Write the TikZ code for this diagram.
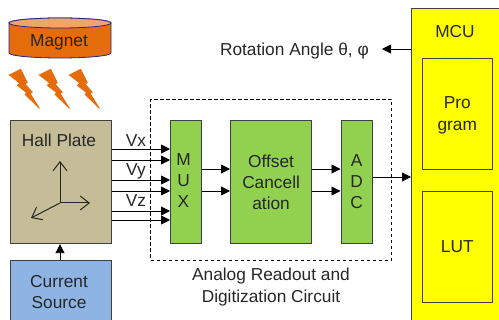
\documentclass[tikz,border=0pt]{standalone}
\usepackage{fontspec}
\setmainfont{Liberation Sans}
\usetikzlibrary{arrows.meta}
\definecolor{gbox}{HTML}{92D050}
\definecolor{tan1}{HTML}{C4BD97}
\definecolor{blue1}{HTML}{8EB4E3}
\definecolor{org}{HTML}{E46C0A}
\definecolor{orgl}{HTML}{F0A468}
\definecolor{edge}{HTML}{404040}
\definecolor{yel}{HTML}{FFFF00}
\tikzset{
  x=1pt,y=-1pt,
  box/.style={draw=edge,line width=1.2pt,inner sep=0pt,align=center,font=\fontsize{17.3}{21}\selectfont,text=black!85},
  lab/.style={inner sep=0pt,align=center,font=\fontsize{17.3}{21}\selectfont,text=black!85},
  conn/.style={draw=black,line width=.9pt,-{Triangle[length=9pt,width=9pt]}},
  axis/.style={draw=black!85,line width=1pt,-{Straight Barb[length=9pt,width=14pt]}},
  bolt/.style={fill=org,draw=org,line width=.8pt,line join=round},
}
\begin{document}
\begin{tikzpicture}
\useasboundingbox (0,0) rectangle (499,320);
% Magnet
\path[fill=org,draw=edge!60!blue,line width=.8pt] (9,23) -- (9,53) arc[x radius=51,y radius=-5,start angle=180,end angle=360] -- (111,23) arc[x radius=51,y radius=-5,start angle=0,end angle=180] -- cycle;
\path[fill=orgl,draw=edge!60!blue,line width=.8pt] (60,23) ellipse[x radius=51,y radius=5];
\node[lab] (magnet) at (59,42.5) {Magnet};
% bolts
\foreach \d in {0,30,60}{
\path[bolt,xshift=\d pt] (9.3,75) -- (20.7,69.3) -- (27.3,82.7) -- (25,84) -- (32.3,92.3) -- (30,93.3) -- (39.3,108.3) -- (25,94.3) -- (26.7,92.7) -- (17.3,85.3) -- (20,83.3) -- cycle;
}
% boxes
\node[box,fill=tan1,minimum width=101pt,minimum height=123pt,anchor=north west] (hall) at (9.5,120) {};
\node[lab] (halllabel) at (59,140) {Hall Plate};
\node[box,fill=blue1,anchor=north west,minimum width=101pt,minimum height=70pt] (current) at (9.5,260) {};
\node[lab] (currentlabel) at (59,292) {Current\\Source};
\node[box,fill=gbox,anchor=north west,minimum width=31pt,minimum height=123pt] (mux) at (170,120) {};
\node[lab] (muxlabel) at (183.5,181) {M\\U\\X};
\node[box,fill=gbox,anchor=north west,minimum width=81pt,minimum height=123pt] (offset) at (230,120) {Offset\\Cancell\\ation};
\node[box,fill=gbox,anchor=north west,minimum width=31pt,minimum height=123pt] (adc) at (340.5,120) {A\\D\\C};
\node[box,fill=yel,anchor=north west,minimum width=100pt,minimum height=330pt] (mcu) at (411,8) {};
\node[lab] (mculabel) at (455,32) {MCU};
\node[box,fill=yel,anchor=north west,minimum width=70pt,minimum height=111pt] (prog) at (421.7,58) {};
\node[lab] (proglabel) at (prog.center) [yshift=-1.5pt] {Pro\\[1pt]gram};
\node[box,fill=yel,anchor=north west,minimum width=70pt,minimum height=111pt] (lut) at (421.7,190.7) {LUT};
% dashed
\node[draw=black,dash pattern=on 3.5pt off 2.5pt,line width=1pt,anchor=north west,minimum width=241pt,minimum height=161pt,inner sep=0pt] (analog) at (150,99) {};
\node[lab] (analoglabel) at (271,287.5) {Analog Readout and\\[1pt]Digitization Circuit};
% arrows
\foreach \y in {149,160,180,191,211,220}{
  \coordinate (s) at (hall.east |- 0,\y);
  \coordinate (t) at (mux.west |- 0,\y);
  \draw[conn] (s) -- (t);
}
\foreach \y in {169,191}{
  \coordinate (s) at (mux.east |- 0,\y);
  \coordinate (t) at (offset.west |- 0,\y);
  \draw[conn] (s) -- (t);
  \coordinate (s) at (offset.east |- 0,\y);
  \coordinate (t) at (adc.west |- 0,\y);
  \draw[conn] (s) -- (t);
}
\coordinate (as) at (adc.east |- 0,177);
\coordinate (at) at (mcu.west |- 0,177);
\draw[conn] (as) -- (at);
\coordinate (rs) at (mcu.west |- 0,49);
\coordinate (rt) at (382,49);
\draw[conn] (rs) -- (rt);
\node[lab,anchor=east] (rot) at (369,51) {Rotation Angle θ, φ};
\draw[conn] (current.north -| 60,0) -- (hall.south -| 60,0);
\node[lab] (vx) at (136,141) {Vx};
\node[lab] (vy) at (136,171) {Vy};
\node[lab] (vz) at (136,201) {Vz};
% axes
\coordinate (o) at (60,203);
\coordinate (ax) at (90,203);
\coordinate (ay) at (60,161);
\coordinate (az) at (31,218);
\draw[axis] (o) -- (ax);
\draw[axis] (o) -- (ay);
\draw[axis] (o) -- (az);
\end{tikzpicture}
\end{document}
